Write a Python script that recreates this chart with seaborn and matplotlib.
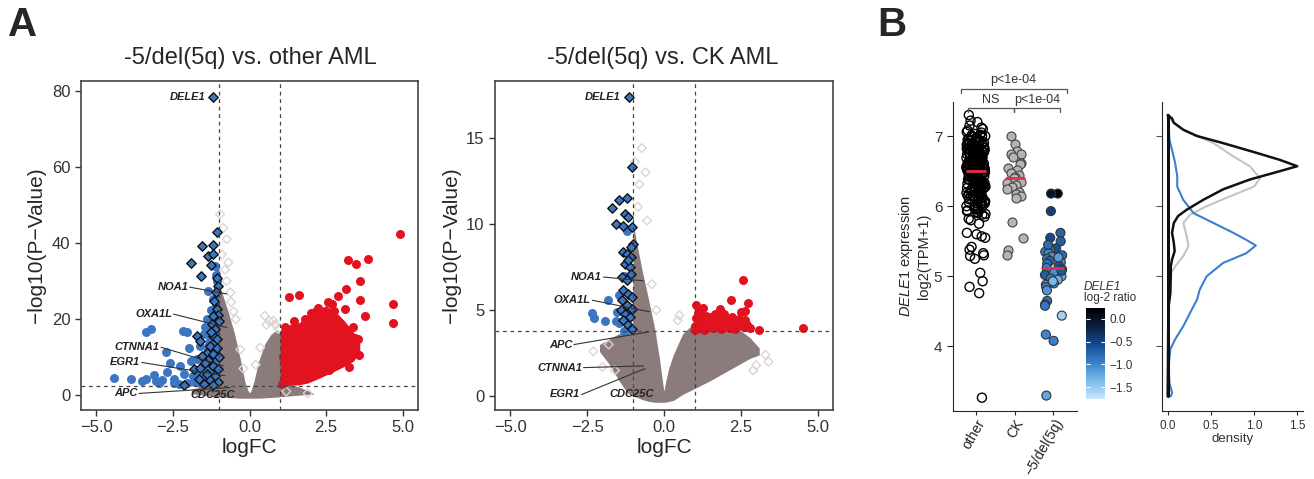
import numpy as np
import pandas as pd
import matplotlib.pyplot as plt
import seaborn as sns
from matplotlib.colors import LinearSegmentedColormap, Normalize
from matplotlib.cm import ScalarMappable

sns.set_style("ticks")
plt.rcParams["font.family"] = ["Liberation Sans", "DejaVu Sans"]
plt.rcParams["mathtext.fontset"] = "custom"
plt.rcParams["mathtext.rm"] = "Liberation Sans"
plt.rcParams["mathtext.it"] = "Liberation Sans:italic"

# ---------------- panel A, left: -5/del(5q) vs other AML ----------------
a1_gray_x = [-1.9, -1.6, -1.3, -1.05, -1.0, -0.9, -0.7, -0.5, -0.3, -0.15, -0.05, 0.0,
             0.05, 0.15, 0.3, 0.5, 0.7, 0.9, 1.0, 1.3, 1.6, 1.9, 2.1]
a1_gray_hi = [1.5, 2.2, 2.6, 3.0, 29, 27, 22, 16.5, 9.5, 3.5, 1.2, 0.6,
              1.2, 3.8, 9.0, 13.5, 16.0, 17.2, 16, 2.8, 2.2, 1.2, 0.4]
a1_gray_lo = [0.4, 0.1, -0.2, -0.4, -0.4, -0.5, -0.6, -0.7, -0.8, -0.8, -0.8, -0.8,
              -0.8, -0.8, -0.8, -0.7, -0.6, -0.5, -0.4, -0.2, 0.0, 0.2, 0.3]
a1_blue_x = [-2.0, -1.8, -1.6, -1.45, -1.3, -1.2, -1.1, -1.0]
a1_blue_hi = [3.5, 5.5, 9.0, 14, 20, 26, 33, 34]
a1_blue_lo = [2.5, 2.4, 2.3, 2.2, 2.2, 2.2, 2.2, 2.2]
a1_red_x = [1.0, 1.3, 1.6, 1.9, 2.2, 2.5, 2.8, 3.1, 3.4, 3.6]
a1_red_hi = [17.0, 18.5, 19.0, 20.5, 22.5, 23.5, 22.0, 19.5, 16.5, 13.5]
a1_red_lo = [2.6, 2.6, 2.7, 3.2, 4.2, 5.3, 6.4, 7.6, 9.0, 11.5]

a1_faint = [(-0.96, 47.6), (-0.74, 41.0), (-0.69, 34.9), (-0.80, 33.0), (-0.90, 37.0),
            (-0.62, 27.0), (-0.52, 22.0), (0.50, 20.9), (0.78, 19.6), (0.94, 17.4),
            (-0.85, 44.0), (-0.75, 30.0), (0.55, 18.5), (0.65, 19.5), (0.85, 18.5),
            (1.2, 1.0), (1.9, 0.5), (-0.6, 24.5), (-0.45, 20.0), (-0.3, 12.0), (0.35, 12.5),
            (0.2, 8.0), (-0.2, 7.0)]
a1_blue = [(-4.43, 4.6), (-3.87, 4.2), (-3.38, 4.2), (-3.13, 5.3), (-3.37, 16.7), (-3.22, 17.5),
           (-2.18, 16.9), (-2.05, 16.7), (-2.72, 11.4), (-2.70, 6.1), (-2.97, 3.3), (-2.48, 4.2),
           (-2.26, 7.7), (-1.99, 12.3), (-1.83, 5.1), (-1.72, 9.5), (-1.61, 13.0), (-1.50, 16.1),
           (-1.39, 20.0), (-1.34, 27.5), (-1.18, 25.3), (-1.12, 34.0), (-1.29, 7.7), (-2.05, 3.2),
           (-1.61, 3.3), (-2.48, 3.3), (-2.30, 3.0), (-2.85, 4.0), (-3.05, 3.6), (-2.6, 8.5),
           (-1.9, 9.0), (-1.55, 6.0), (-1.45, 18.0), (-1.25, 22.5), (-1.05, 30.0), (-1.1, 31.5),
           (-1.2, 14.0), (-2.15, 5.5), (-3.5, 3.6)]
a1_red = [(4.92, 42.5), (3.22, 35.5), (3.49, 34.5), (3.87, 35.8), (3.62, 30.1), (3.62, 25.0),
          (3.78, 20.9), (4.69, 24.1), (4.69, 19.1), (3.58, 10.5), (3.25, 7.5), (1.29, 25.7),
          (1.62, 26.3), (3.14, 27.9), (2.90, 26.1), (2.68, 23.9), (3.11, 22.6), (3.38, 17.8),
          (3.55, 14.7), (2.13, 21.8), (2.40, 20.9), (2.95, 19.1), (3.16, 16.1), (2.55, 24.5),
          (2.75, 22.0), (2.25, 23.0), (2.0, 21.5), (1.8, 20.0), (1.45, 19.5), (1.15, 18.0),
          (3.3, 12.0), (3.45, 15.0), (3.0, 9.0), (2.6, 6.5), (1.05, 3.0), (1.1, 10.0)]
a1_chr5 = [(-1.18, 78.5), (-1.05, 42.8), (-1.54, 39.3), (-1.18, 39.6), (-1.34, 36.7), (-1.18, 37.1),
           (-1.92, 34.7), (-1.27, 34.2), (-1.58, 31.4), (-1.07, 30.7), (-1.04, 28.6), (-1.09, 27.0),
           (-1.15, 24.8), (-1.07, 22.6), (-1.03, 21.2), (-1.18, 20.9), (-1.01, 19.6), (-1.24, 18.8),
           (-1.12, 17.4), (-1.72, 15.6), (-1.63, 14.3), (-1.18, 15.6), (-1.07, 14.7), (-1.29, 12.9),
           (-1.07, 12.5), (-1.40, 11.1), (-1.18, 10.7), (-1.56, 10.4), (-1.01, 10.0), (-1.34, 9.2),
           (-1.81, 7.0), (-1.62, 7.2), (-1.18, 7.7), (-1.03, 6.8), (-1.40, 5.6), (-1.12, 5.0),
           (-1.64, 4.2), (-1.29, 3.9), (-1.02, 3.5), (-2.15, 2.6), (-1.50, 3.0), (-1.18, 2.8),
           (-1.45, 8.5), (-1.25, 16.5)]
# name, text x, text y, point x, point y
a1_labels = [("DELE1", -1.42, 78.5, None, None), ("NOA1", -2.0, 28.4, -0.74, 26.6),
             ("OXA1L", -2.53, 21.3, -0.74, 17.8), ("CTNNA1", -2.94, 12.6, -0.85, 7.7),
             ("EGR1", -3.57, 8.6, -0.8, 5.1), ("APC", -3.66, 0.45, -0.64, 2.0),
             ("CDC25C", -1.2, 0.1, None, None)]

# ---------------- panel A, right: -5/del(5q) vs CK AML ----------------
a2_gray_x = [-2.1, -1.8, -1.5, -1.2, -1.02, -1.0, -0.9, -0.7, -0.5, -0.3, -0.15, -0.03, 0.0,
             0.05, 0.15, 0.3, 0.6, 1.0, 1.5, 2.0, 2.5, 2.8, 3.1]
a2_gray_hi = [3.0, 3.3, 3.6, 3.8, 3.9, 10.0, 9.0, 7.2, 5.6, 3.9, 2.2, 0.6, 0.3,
              0.8, 1.6, 2.4, 3.6, 4.3, 4.2, 4.0, 3.8, 3.4, 2.8]
a2_gray_lo = [2.6, 1.9, 1.0, 0.2, 0.0, 0.0, -0.05, -0.2, -0.3, -0.35, -0.35, -0.35, -0.35,
              -0.35, -0.3, -0.25, 0.1, 0.45, 0.9, 1.4, 1.9, 2.2, 2.4]
a2_faint = [(-0.72, 14.4), (-0.60, 13.0), (-0.85, 11.0), (-0.55, 10.2), (0.5, 4.7), (0.45, 4.4),
            (-1.8, 3.0), (-2.0, 1.7), (-1.6, 1.5), (3.0, 1.8), (3.3, 2.4), (2.9, 1.5),
            (3.4, 2.0), (-0.95, 13.6), (-0.8, 12.3), (-2.3, 2.6), (-0.4, 6.5), (-0.25, 5.0)]
a2_blue = [(-1.83, 5.6), (-2.33, 4.85), (-2.29, 4.56), (-1.92, 4.37), (-1.54, 4.9), (-1.57, 4.37),
           (-1.46, 4.27), (-1.31, 3.79), (-1.21, 9.6), (-1.10, 5.0), (-1.45, 5.9), (-1.3, 7.0)]
a2_red = [(2.57, 6.76), (2.17, 5.57), (2.72, 5.43), (1.04, 5.31), (1.26, 5.12), (1.82, 5.04),
          (2.65, 4.93), (4.52, 3.96), (3.08, 3.83), (1.02, 4.1), (1.05, 4.55), (1.1, 3.95),
          (1.15, 4.3), (1.2, 4.7), (1.25, 4.05), (1.3, 4.4), (1.35, 3.9), (1.4, 4.2),
          (1.45, 4.6), (1.5, 4.0), (1.55, 4.35), (1.6, 3.95), (1.65, 4.75), (1.7, 4.25),
          (1.75, 4.0), (1.8, 4.5), (1.85, 3.9), (1.9, 4.2), (1.95, 4.8), (2.0, 4.0),
          (2.1, 4.4), (2.15, 3.95), (2.2, 4.6), (2.25, 4.2), (2.3, 3.9), (2.4, 4.1),
          (2.45, 4.5), (2.5, 4.9), (2.55, 4.2), (2.6, 4.0), (2.7, 4.15), (2.8, 3.95),
          (1.12, 4.85), (1.38, 4.65), (1.62, 4.45), (1.88, 4.6), (2.35, 4.3), (2.62, 4.45),
          (1.02, 3.85), (1.3, 3.85)]
a2_chr5 = [(-1.13, 17.4), (-1.03, 13.3), (-1.46, 11.4), (-1.19, 11.5), (-1.70, 10.9), (-1.27, 10.6),
           (-1.16, 10.4), (-1.56, 10.0), (-1.32, 9.9), (-1.05, 9.8), (-1.00, 8.85), (-1.08, 8.66),
           (-1.34, 8.37), (-1.21, 8.27), (-1.08, 8.08), (-1.27, 7.69), (-1.10, 7.5), (-1.07, 7.1),
           (-1.37, 6.92), (-1.21, 6.73), (-1.32, 6.15), (-1.16, 5.95), (-1.05, 5.76), (-1.37, 5.57),
           (-1.21, 5.28), (-1.05, 5.08), (-1.41, 4.99), (-1.27, 4.8), (-1.10, 4.6), (-1.21, 4.2),
           (-1.05, 3.92), (-1.32, 4.4), (-1.16, 7.9)]
a2_labels = [("DELE1", -1.43, 17.35, None, None), ("NOA1", -2.02, 6.92, -0.67, 6.7),
             ("OXA1L", -2.38, 5.57, -0.46, 4.9), ("APC", -2.98, 3.0, -0.51, 3.73),
             ("CTNNA1", -2.67, 1.66, -0.67, 1.76), ("EGR1", -2.73, 0.1, -0.62, 1.6),
             ("CDC25C", -1.05, 0.1, None, None)]

# ---------------- panel B ----------------
groups = ["other", "CK", "\u22125/del(5q)"]
other_expr = [7.08, 7.05, 7.03, 7.02, 7.0, 6.98, 6.97, 6.95, 6.94, 6.92, 6.91, 6.9, 6.89, 6.88,
              6.87, 6.86, 6.85, 6.84, 6.83, 6.82, 6.81, 6.8, 6.79, 6.78, 6.77, 6.76, 6.75, 6.75,
              6.74, 6.73, 6.72, 6.72, 6.71, 6.7, 6.7, 6.69, 6.68, 6.68, 6.67, 6.66, 6.66, 6.65,
              6.64, 6.64, 6.63, 6.62, 6.62, 6.61, 6.6, 6.6, 6.59, 6.58, 6.58, 6.57, 6.56, 6.56,
              6.55, 6.55, 6.54, 6.53, 6.53, 6.52, 6.51, 6.51, 6.5, 6.5, 6.49, 6.48, 6.48, 6.47,
              6.46, 6.46, 6.45, 6.44, 6.43, 6.42, 6.42, 6.41, 6.4, 6.39, 6.38, 6.37, 6.36, 6.35,
              6.34, 6.33, 6.32, 6.31, 6.3, 6.29, 6.28, 6.27, 6.26, 6.25, 6.24, 6.22, 6.21, 6.2,
              6.18, 6.17, 6.15, 6.14, 6.12, 6.1, 6.08, 6.06, 6.04, 6.02, 6.0, 5.98, 5.96, 5.94,
              5.92, 5.9, 5.88, 5.85, 5.82, 5.8, 5.75, 7.3, 7.22, 7.2, 7.15, 7.12, 7.1, 5.62,
              5.6, 5.57, 5.55, 5.42, 5.38, 5.33, 5.3, 5.29, 5.25, 5.05, 4.93, 4.85, 4.76, 3.27,
              6.96, 6.93, 6.88, 6.83, 6.79, 6.74, 6.69, 6.65, 6.61, 6.57, 6.54, 6.52, 6.5, 6.47,
              6.44, 6.41, 6.37, 6.33, 6.28, 6.23, 6.19, 6.13, 6.07, 6.01, 6.63, 6.59, 6.45, 6.77,
              7.06, 7.01, 6.99, 6.95, 6.91, 6.87, 6.85, 6.82, 6.8, 6.78, 6.76, 6.73, 6.71, 6.69,
              6.67, 6.65, 6.63, 6.61, 6.6, 6.58, 6.56, 6.55, 6.53, 6.52, 6.5, 6.49, 6.47, 6.45,
              6.43, 6.41, 6.39, 6.37, 6.35, 6.32, 6.3, 6.27, 6.25, 6.22, 6.19, 6.16, 6.13, 6.1,
              6.07, 6.04, 6.0, 5.97, 5.93, 5.89, 6.71, 6.68, 6.62, 6.57, 6.54, 6.48, 6.44, 6.38,
              6.34, 6.26, 6.84, 6.9, 6.94, 7.0, 6.2, 6.15, 6.11, 6.05, 5.99, 5.95]
ck_expr = [7.0, 6.88, 6.78, 6.75, 6.74, 6.70, 6.62, 6.60, 6.55, 6.52, 6.48, 6.45, 6.42, 6.40,
           6.35, 6.33, 6.30, 6.28, 6.25, 6.20, 6.18, 6.15, 6.12, 5.78, 5.55, 5.38, 5.30]
del5q_expr = [6.18, 6.18, 5.93, 5.62, 5.55, 5.50, 5.40, 5.38, 5.35, 5.33, 5.30, 5.28, 5.25,
              5.22, 5.20, 5.18, 5.15, 5.12, 5.10, 5.05, 5.02, 5.0, 4.97, 4.95, 4.90, 4.88,
              4.85, 4.80, 4.65, 4.60, 4.58, 4.44, 4.17, 4.08, 3.30, 5.45, 5.27, 5.08, 4.93]
del5q_ratio = [0.2, -0.05, -0.45, -0.75, -0.55, -0.7, -0.6, -0.85, -0.9, -1.0, -0.8, -1.1, -0.9,
               -0.75, -1.0, -0.85, -0.6, -0.95, -0.8, -1.05, -0.7, -1.2, -0.9, -1.3, -1.0, -1.2,
               -0.9, -1.1, -0.85, -0.75, -0.9, -1.55, -1.0, -0.95, -1.2, -0.8, -1.15, -0.65, -1.35]
ratio_range = (-1.76, 0.24)

dens_y_other = [3.29, 4.2, 4.57, 4.76, 5.0, 5.14, 5.24, 5.36, 5.48, 5.62, 5.76, 5.86, 5.95, 6.09,
                6.24, 6.38, 6.5, 6.57, 6.66, 6.76, 6.9, 7.0, 7.09, 7.19, 7.25, 7.3]
dens_other = [0.0, 0.005, 0.01, 0.03, 0.035, 0.035, 0.05, 0.08, 0.07, 0.05, 0.07, 0.12, 0.22, 0.41,
              0.64, 0.95, 1.30, 1.50, 1.30, 1.03, 0.64, 0.34, 0.18, 0.07, 0.05, 0.0]
dens_y_ck = [3.29, 4.5, 5.0, 5.07, 5.14, 5.29, 5.43, 5.57, 5.76, 5.88, 6.0, 6.14, 6.28, 6.40,
             6.57, 6.71, 6.9, 7.09, 7.2, 7.3]
dens_ck = [0.0, 0.01, 0.02, 0.05, 0.085, 0.18, 0.24, 0.22, 0.18, 0.26, 0.45, 0.72, 1.0, 1.07,
           0.95, 0.76, 0.53, 0.18, 0.06, 0.0]
dens_y_5q = [3.29, 3.34, 3.48, 3.72, 3.96, 4.10, 4.29, 4.53, 4.67, 4.81, 5.0, 5.19, 5.33, 5.44,
             5.52, 5.62, 5.76, 5.90, 6.09, 6.28, 6.43, 6.62, 6.8, 6.95, 7.3]
dens_5q = [0.035, 0.05, 0.02, 0.01, 0.03, 0.085, 0.18, 0.28, 0.34, 0.37, 0.45, 0.64, 0.91, 1.02,
           0.91, 0.76, 0.53, 0.30, 0.18, 0.11, 0.11, 0.085, 0.05, 0.02, 0.0]

# ---------------- drawing ----------------
W, H = 1314, 479
fig = plt.figure(figsize=(W / 100, H / 100), dpi=100)


def px_axes(l, t, r, b):
    return fig.add_axes([l / W, 1 - b / H, (r - l) / W, (b - t) / H])


GRAY = "#8b7b7b"
BLUE = "#3b76c4"
RED = "#e3121f"
FAINT = "#ddd4d4"


def pts_df(pairs):
    return pd.DataFrame(pairs, columns=["logFC", "nlp"])


def volcano(ax, gray, blue_env, red_env, faint, blue, red, chr5, labels, thr, ylim, yticks):
    ax.fill_between(gray[0], gray[1], gray[2], color=GRAY, lw=0, zorder=1)
    sns.scatterplot(data=pts_df(faint), x="logFC", y="nlp", ax=ax, marker="D", s=20,
                    facecolor="none", edgecolor=FAINT, linewidth=1.0, zorder=2)
    if blue_env is not None:
        ax.fill_between(blue_env[0], blue_env[1], blue_env[2], color=BLUE, lw=0, zorder=2)
    sns.scatterplot(data=pts_df(blue), x="logFC", y="nlp", ax=ax, s=42, color=BLUE,
                    linewidth=0, zorder=3)
    if red_env is not None:
        ax.fill_between(red_env[0], red_env[1], red_env[2], color=RED, lw=0, zorder=2)
    sns.scatterplot(data=pts_df(red), x="logFC", y="nlp", ax=ax, s=42, color=RED,
                    linewidth=0, zorder=3)
    sns.scatterplot(data=pts_df(chr5), x="logFC", y="nlp", ax=ax, marker="D", s=23, color=BLUE,
                    edgecolor="#111111", linewidth=1.0, zorder=4)
    for v in (-1, 1):
        ax.axvline(v, color="#444444", lw=0.9, ls=(0, (3, 3)), zorder=5)
    ax.axhline(thr, color="#444444", lw=0.9, ls=(0, (3, 3)), zorder=5)
    for name, tx, ty, px, py in labels:
        ha = "center" if name == "CDC25C" else "right"
        ax.text(tx, ty, name, ha=ha, va="center", fontsize=8, fontweight="bold",
                fontstyle="italic", color="#222222", zorder=6)
        if px is not None:
            ax.plot([tx + 0.05, px], [ty, py], color="#333333", lw=0.8, zorder=6)
    ax.set_xlim(-5.5, 5.5)
    ax.set_ylim(*ylim)
    ax.set_xticks([-5, -2.5, 0, 2.5, 5])
    ax.set_xticklabels(["\u22125.0", "\u22122.5", "0.0", "2.5", "5.0"])
    ax.set_yticks(yticks)
    ax.set_yticklabels([str(v) for v in yticks])
    ax.tick_params(labelsize=12, labelcolor="#333333", color="#333333", length=4, width=1)
    for sp in ax.spines.values():
        sp.set_visible(True)
        sp.set_color("#444444")
        sp.set_linewidth(1.2)
    ax.set_xlabel("logFC", fontsize=15, labelpad=2)
    ax.set_ylabel("\u2212log10(P\u2212Value)", fontsize=15, labelpad=4)


ax1 = px_axes(81, 81, 418, 410)
volcano(ax1, (a1_gray_x, a1_gray_lo, a1_gray_hi), (a1_blue_x, a1_blue_lo, a1_blue_hi),
        (a1_red_x, a1_red_lo, a1_red_hi), a1_faint, a1_blue, a1_red, a1_chr5, a1_labels,
        2.46, (-3.9, 82.6), [0, 20, 40, 60, 80])
ax2 = px_axes(495, 81, 833, 410)
volcano(ax2, (a2_gray_x, a2_gray_lo, a2_gray_hi), None, None, a2_faint, a2_blue, a2_red,
        a2_chr5, a2_labels, 3.79, (-0.8, 18.3), [0, 5, 10, 15])
fig.text(250 / W, 1 - 58 / H, "-5/del(5q) vs. other AML", ha="center", va="center", fontsize=17)
fig.text(663 / W, 1 - 58 / H, "-5/del(5q) vs. CK AML", ha="center", va="center", fontsize=17)
fig.text(8 / W, 1 - 25 / H, "A", ha="left", va="center", fontsize=29, fontweight="bold")
fig.text(877 / W, 1 - 25 / H, "B", ha="left", va="center", fontsize=29, fontweight="bold")

# strip plot
cmap = LinearSegmentedColormap.from_list(
    "dele1", ["#c9e7fb", "#7bbbea", "#3a80cc", "#124c92", "#0a1e3c", "#000000"])
axs = px_axes(952.7, 101.7, 1076.7, 411)
np.random.seed(7)
sns.stripplot(x=[groups[0]] * len(other_expr), y=other_expr, order=groups, jitter=0.25,
              color="white", edgecolor="black", linewidth=1.0, size=6.5, ax=axs, zorder=2)
for coll in axs.collections:
    coll.set_facecolor("none")
sns.stripplot(x=[groups[1]] * len(ck_expr), y=ck_expr, order=groups, jitter=0.22,
              color="#b5b5b5", edgecolor="#444444", linewidth=0.8, size=6.5, ax=axs, zorder=2)
sns.stripplot(x=[groups[2]] * len(del5q_expr), y=del5q_expr, hue=del5q_ratio, order=groups,
              palette=cmap, hue_norm=ratio_range, jitter=0.24, edgecolor="#333333",
              linewidth=0.8, size=6.5, ax=axs, legend=False, zorder=2)
for i, vals in enumerate([other_expr, ck_expr, del5q_expr]):
    axs.hlines(np.median(vals), i - 0.26, i + 0.26, color="#e3304a", lw=2, zorder=5)
axs.set_xlim(-0.6, 2.6)
axs.set_ylim(3.08, 7.49)
axs.set_yticks([4, 5, 6, 7])
axs.set_yticklabels(["4", "5", "6", "7"])
axs.tick_params(axis="y", labelsize=11, labelcolor="#333333", length=4)
axs.tick_params(axis="x", labelsize=10, labelcolor="#222222", length=3, pad=1)
plt.setp(axs.get_xticklabels(), rotation=60, ha="right", rotation_mode="anchor")
axs.set_ylabel("$\\it{DELE1}$ expression\nlog2(TPM+1)", fontsize=10.5, labelpad=2)
axs.set_xlabel("")
sns.despine(ax=axs)

# significance brackets
br_kw = dict(color="#555555", lw=0.9, clip_on=False)
axs.plot([-0.39, -0.39, 2.35, 2.35], [7.62, 7.67, 7.67, 7.62], **br_kw)
axs.plot([-0.21, -0.21, 0.99, 0.99], [7.35, 7.40, 7.40, 7.35], **br_kw)
axs.plot([0.99, 0.99, 2.17, 2.17], [7.35, 7.40, 7.40, 7.35], **br_kw)
axs.text(0.97, 7.72, "p<1e-04", ha="center", va="bottom", fontsize=9, color="#333333")
axs.text(0.39, 7.43, "NS", ha="center", va="bottom", fontsize=9, color="#333333")
axs.text(1.57, 7.43, "p<1e-04", ha="center", va="bottom", fontsize=9, color="#333333")

# colorbar
cax = px_axes(1086, 308, 1105, 399)
cb = fig.colorbar(ScalarMappable(norm=Normalize(*ratio_range), cmap=cmap), cax=cax)
cb.outline.set_visible(False)
cb.set_ticks([0.0, -0.5, -1.0, -1.5])
cb.set_ticklabels(["0.0", "\u22120.5", "\u22121.0", "\u22121.5"])
cax.tick_params(length=0, labelsize=8.5, labelcolor="#333333", pad=3)
for t in [0.0, -0.5, -1.0, -1.5]:
    cax.hlines(t, 0, 0.2, color="white", lw=0.8)
    cax.hlines(t, 0.8, 1, color="white", lw=0.8)
fig.text(1084 / W, 1 - 287 / H, "DELE1", ha="left", va="center", fontsize=8.5,
         fontstyle="italic", color="#333333")
fig.text(1084 / W, 1 - 297.5 / H, "log-2 ratio", ha="left", va="center", fontsize=8.5,
         color="#333333")

# density
axd = px_axes(1161.7, 101.7, 1303.3, 411)
sns.lineplot(x=dens_ck, y=dens_y_ck, orient="y", sort=False, estimator=None, color="#c4c4c4",
             lw=1.5, ax=axd)
sns.lineplot(x=dens_5q, y=dens_y_5q, orient="y", sort=False, estimator=None, color="#3a80d0",
             lw=1.5, ax=axd)
sns.lineplot(x=dens_other, y=dens_y_other, orient="y", sort=False, estimator=None,
             color="#111111", lw=1.8, ax=axd)
axd.plot([0, 0], [min(dens_y_other), max(dens_y_other)], color="#111111", lw=2.2)
axd.set_xlim(-0.07, 1.57)
axd.set_ylim(3.08, 7.49)
axd.set_yticks([4, 5, 6, 7])
axd.set_yticklabels([])
axd.set_xticks([0, 0.5, 1.0, 1.5])
axd.set_xticklabels(["0.0", "0.5", "1.0", "1.5"])
axd.tick_params(axis="x", labelsize=8.5, labelcolor="#333333", length=3)
axd.tick_params(axis="y", length=4, color="#555555")
axd.set_xlabel("density", fontsize=9.5, labelpad=1, color="#333333")
axd.set_ylabel("")
sns.despine(ax=axd)

fig.savefig("out.png", dpi=100)
